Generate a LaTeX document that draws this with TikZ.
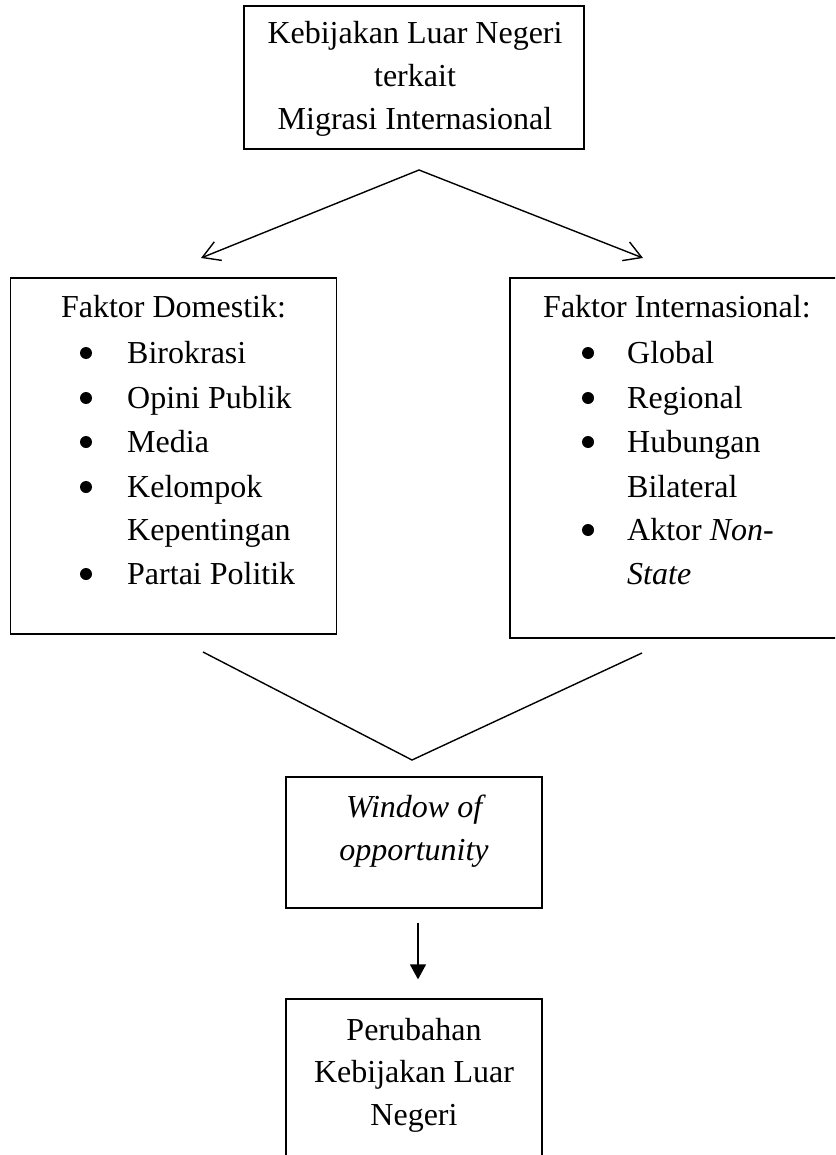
\documentclass[tikz,border=0pt]{standalone}
\usepackage{fontspec}
\setmainfont{Liberation Serif}
\usetikzlibrary{arrows.meta}
\begin{document}
\begin{tikzpicture}[x=1pt,y=-1pt,
  box/.style={draw, line width=1.3pt, inner sep=0pt},
  txt/.style={anchor=base, inner sep=0pt, font=\fontsize{32}{38}\selectfont},
  ltxt/.style={anchor=base west, inner sep=0pt, font=\fontsize{32}{38}\selectfont},
  bul/.style={circle, fill, inner sep=0pt, minimum size=12pt},
  conn/.style={line width=1.4pt},
]
\useasboundingbox (0,0) rectangle (835,1155);
\clip (0,0) rectangle (835,1155);
% boxes
\node[box, minimum width=340pt, minimum height=143pt] (top) at (414,77.5) {};
\node[box, minimum width=326pt, minimum height=356pt] (dom) at (173.5,456) {};
\node[box, minimum width=340pt, minimum height=360pt] (intl) at (680,458) {};
\node[box, minimum width=256pt, minimum height=131pt] (win) at (414,842.5) {};
\node[box, minimum width=256pt, minimum height=181pt] (bot) at (414,1089.5) {};
% top box text
\node[txt] (t1) at (415,44) {Kebijakan Luar Negeri};
\node[txt] (t2) at (415,87) {terkait};
\node[txt] (t3) at (415,130) {Migrasi Internasional};
% domestic
\node[txt] (dh) at (173.5,317) {Faktor Domestik:};
\node[bul] (db1) at (86,353) {};
\node[ltxt] (d1) at (127,363) {Birokrasi};
\node[bul] (db2) at (86,398) {};
\node[ltxt] (d2) at (127,408) {Opini Publik};
\node[bul] (db3) at (86,442) {};
\node[ltxt] (d3) at (127,452) {Media};
\node[bul] (db4) at (86,487) {};
\node[ltxt] (d4) at (127,497) {Kelompok};
\node[ltxt] (d5) at (127,540) {Kepentingan};
\node[bul] (db6) at (86,574) {};
\node[ltxt] (d6) at (127,584) {Partai Politik};
% international
\node[ltxt] (ih) at (543,317) {Faktor Internasional:};
\node[bul] (ib1) at (588,353) {};
\node[ltxt] (i1) at (627,363) {Global};
\node[bul] (ib2) at (588,398) {};
\node[ltxt] (i2) at (627,408) {Regional};
\node[bul] (ib3) at (588,442) {};
\node[ltxt] (i3) at (627,452) {Hubungan};
\node[ltxt] (i4) at (627,497) {Bilateral};
\node[bul] (ib5) at (588,530) {};
\node[ltxt] (i5) at (627,540) {Aktor \textit{Non-}};
\node[ltxt] (i6) at (627,584) {\textit{State}};
% window
\node[txt] (w1) at (416,817) {\textit{Window of}};
\node[txt] (w2) at (414,860) {\textit{opportunity}};
% bottom
\node[txt] (p1) at (414,1040) {Perubahan};
\node[txt] (p2) at (414,1082) {Kebijakan Luar};
\node[txt] (p3) at (414,1125) {Negeri};
% connectors
\coordinate (apex) at (419,170);
\coordinate (lt) at (201,258);
\coordinate (rt) at (643,258);
\draw[conn, {Straight Barb[length=17pt,width=20pt]}-{Straight Barb[length=17pt,width=20pt]}] (lt) -- (apex) -- (rt);
\coordinate (vl) at (203,652);
\coordinate (vb) at (412,760);
\coordinate (vr) at (642,653);
\draw[conn] (vl) -- (vb) -- (vr);
\draw[conn, -{Triangle[length=15pt,width=16pt]}, shorten <=14pt, shorten >=19pt] ([xshift=4pt]win.south) -- ([xshift=4pt]bot.north);
\end{tikzpicture}
\end{document}
